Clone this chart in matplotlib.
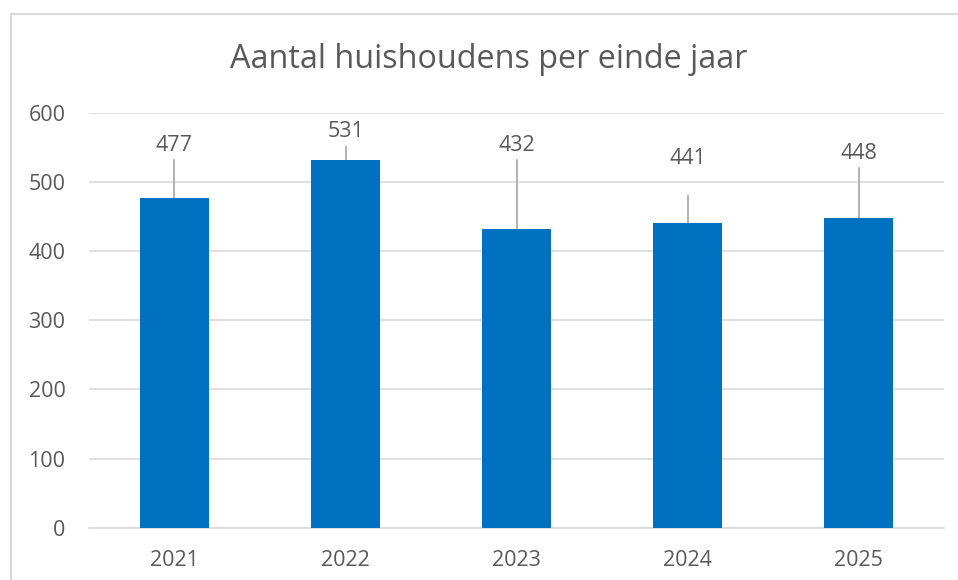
import matplotlib
matplotlib.use("Agg")

import matplotlib.pyplot as plt
from matplotlib.lines import Line2D

years = ["2021", "2022", "2023", "2024", "2025"]
households = [477, 531, 432, 441, 448]
y_ticks = [0, 100, 200, 300, 400, 500, 600]

# where Excel put the data labels and the top of their leader lines (data units)
label_y = [553, 573, 553, 534, 541]
leader_top = [531, 551, 532, 479, 520]

BLUE = "#0070C0"
TEXT = "#595959"
GRID = "#D9D9D9"
LEADER = "#A6A6A6"

plt.rcParams["font.family"] = ["Open Sans", "DejaVu Sans"]

fig = plt.figure(figsize=(9.58, 5.8), dpi=100)
ax = fig.add_axes([0.0929, 0.0902, 0.8925, 0.7155])

x = list(range(len(years)))
ax.bar(x, households, width=0.4, color=BLUE, zorder=3)

for xi, v, ly, lt in zip(x, households, label_y, leader_top):
    ax.plot([xi, xi], [v, lt], color=LEADER, linewidth=1.2, zorder=2)
    ax.text(xi, ly, str(v), ha="center", va="center", fontsize=15.5, color=TEXT)

ax.set_xlim(-0.5, len(years) - 0.5)
ax.set_ylim(0, 600)
ax.set_yticks(y_ticks)
ax.set_xticks(x)
ax.set_xticklabels(years)
ax.tick_params(axis="both", length=0, labelsize=15.5, colors=TEXT)
ax.tick_params(axis="y", pad=17)
ax.tick_params(axis="x", pad=16)
ax.yaxis.grid(True, color=GRID, linewidth=1.2, zorder=0)
ax.set_axisbelow(True)
for side in ["top", "right", "left"]:
    ax.spines[side].set_visible(False)
ax.spines["bottom"].set_color(GRID)
ax.spines["bottom"].set_linewidth(1.2)

fig.text(0.5106, 1 - 60 / 580, "Aantal huishoudens per einde jaar",
         ha="center", va="center", fontsize=23.3, color=TEXT)

# chart area border (cropped on the right and bottom)
bx, by = 10.5 / 958, 1 - 13.5 / 580
fig.add_artist(Line2D([bx, bx], [0, by], color=GRID, linewidth=1.5, transform=fig.transFigure))
fig.add_artist(Line2D([bx, 1], [by, by], color=GRID, linewidth=1.5, transform=fig.transFigure))

fig.savefig("out.png", dpi=100)
